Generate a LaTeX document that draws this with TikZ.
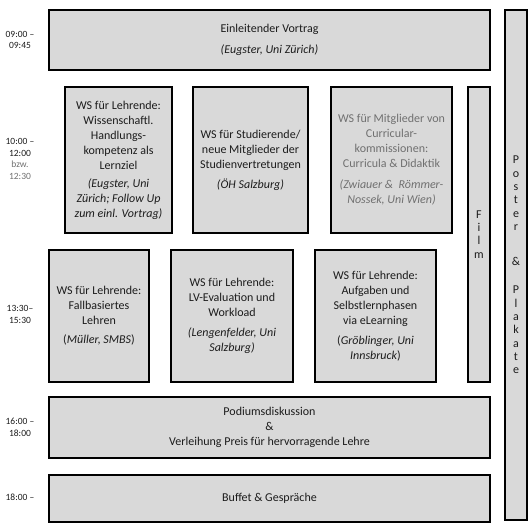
\documentclass[tikz,border=0pt]{standalone}
\usepackage{fontspec}
\setmainfont{Carlito}
\usepackage{tikz}
\definecolor{slotFill}{HTML}{D9D9D9}
\definecolor{slotText}{HTML}{1C1C1C}
\definecolor{mutedText}{HTML}{707070}

\begin{document}
\begin{tikzpicture}[
  x=1pt, y=-1pt,
  every node/.style={font=\fontsize{12}{15}\selectfont, text=slotText},
  slot/.style 2 args={rectangle, draw=black, line width=2pt, fill=slotFill, align=center, inner sep=2pt, minimum width=#1pt, minimum height=#2pt},
  timelbl/.style={align=center, font=\fontsize{9.5}{11.5}\selectfont},
  letters/.style={align=center, font=\fontsize{12}{13.3}\selectfont}
]
\useasboundingbox (0,0) rectangle (530,529);
\node[slot={441}{60}] (intro) at (269.5,40) {Einleitender Vortrag\\[6pt]\textit{(Eugster, Uni Zürich)}};
\node[slot={107}{146}] (wsKompetenz) at (118.5,160) {WS für Lehrende:\\Wissenschaftl.\\Handlungs-\\kompetenz als\\Lernziel\\[3pt]\textit{(Eugster, Uni}\\\textit{Zürich; Follow Up}\\\textit{zum einl. Vortrag)}};
\node[slot={115}{146}] (wsStudis) at (250.5,160) {WS für Studierende/\\neue Mitglieder der\\Studienvertretungen\\[5pt]\textit{(ÖH Salzburg)}};
\node[slot={121}{146}, text=mutedText] (wsCurricula) at (391.5,160) {WS für Mitglieder von\\Curricular-\\kommissionen:\\Curricula \& Didaktik\\[6pt]\textit{(Zwiauer \&\ \ Römmer-}\\\textit{Nossek, Uni Wien)}};
\node[slot={22}{295}] (film) at (479,234.5) {};
\node[letters] (filmText) at (film.center) {F\\i\\l\\m};
\node[slot={100}{132}] (wsFall) at (99,316) {WS für Lehrende:\\Fallbasiertes\\Lehren\\[4pt](\textit{Müller, SMBS})};
\node[slot={122}{132}] (wsEval) at (232,316) {WS für Lehrende:\\LV-Evaluation und\\Workload\\[5pt]\textit{(Lengenfelder, Uni}\\\textit{Salzburg)}};
\node[slot={121}{132}] (wsLearn) at (375.5,316) {WS für Lehrende:\\Aufgaben und\\Selbstlernphasen\\via eLearning\\[5pt](\textit{Gröblinger, Uni}\\\textit{Innsbruck})};
\node[slot={441}{61}] (podium) at (269.5,427.5) {Podiumsdiskussion\\\&\\Verleihung Preis für hervorragende Lehre};
\node[slot={441}{47}] (buffet) at (269.5,498.5) {Buffet \& Gespräche};
\node[slot={22}{510}] (poster) at (516,265) {};
\node[letters] (posterText) at (poster.center) {P\\o\\s\\t\\e\\r\\[22pt]\&\\[15pt]P\\l\\a\\k\\a\\t\\e};
\node[timelbl] (tIntro) at (20,40) {09:00 --\\09:45};
\node[timelbl] (tMorning) at (20,159) {10:00 --\\12:00\\\textcolor{mutedText}{bzw.}\\\textcolor{mutedText}{12:30}};
\node[timelbl] (tAfternoon) at (20,314.5) {13:30--\\15:30};
\node[timelbl] (tPodium) at (20,427.5) {16:00 --\\18:00};
\node[timelbl] (tBuffet) at (20,497) {18:00 --};
\end{tikzpicture}
\end{document}
